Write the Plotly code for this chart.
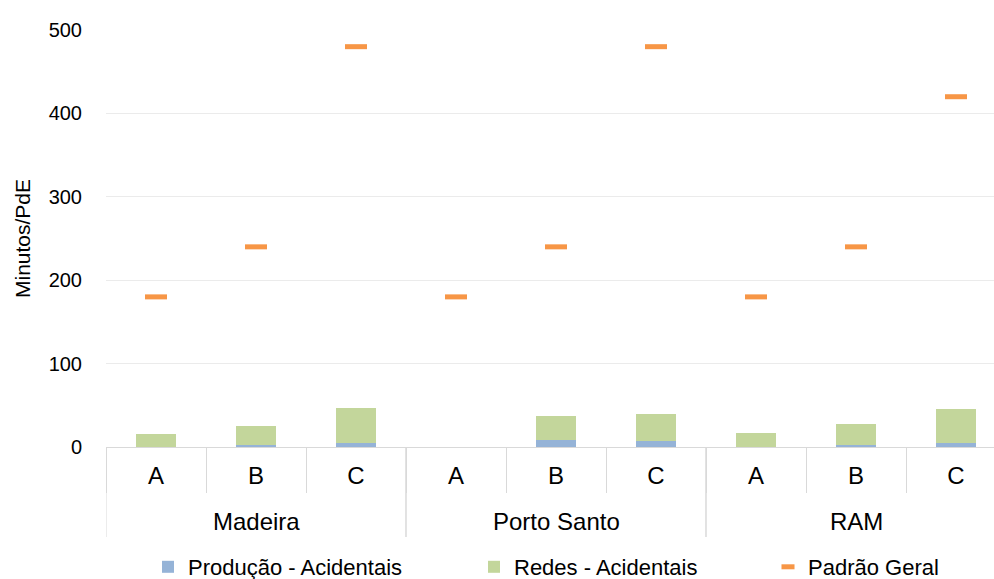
import plotly.graph_objects as go

regions = ["Madeira", "Madeira", "Madeira",
           "Porto Santo", "Porto Santo", "Porto Santo",
           "RAM", "RAM", "RAM"]
zones = ["A", "B", "C", "A", "B", "C", "A", "B", "C"]

producao = [0.3, 2.0, 4.4, 0.0, 8.0, 7.0, 0.3, 3.0, 4.5]
redes = [15.7, 23.5, 42.0, 0.0, 29.6, 32.2, 16.1, 24.2, 41.5]
padrao = [180, 240, 480, 180, 240, 480, 180, 240, 420]

font = "Liberation Sans, Arial, sans-serif"
ORANGE = "#F79646"
DIV = "#D9D9D9"

pos = list(range(len(zones)))
groups = list(dict.fromkeys(regions))

# figure and plot-area geometry (pixels) used to place the legend and group labels
FW, FH = 994, 579
L, T, B = 106, 30, 132
W, H = FW - L, FH - T - B

fig = go.Figure()
fig.add_trace(go.Bar(x=pos, y=producao, name="Produção - Acidentais",
                     marker=dict(color="#95B3D7", line=dict(width=0)),
                     width=0.4, legend="legend"))
fig.add_trace(go.Bar(x=pos, y=redes, name="Redes - Acidentais",
                     marker=dict(color="#C3D69B", line=dict(width=0)),
                     width=0.4, legend="legend2"))
fig.add_trace(go.Scatter(x=pos, y=padrao, name="Padrão Geral", mode="markers",
                         marker=dict(symbol="line-ew", size=15.7,
                                     line=dict(color=ORANGE, width=5)),
                         showlegend=False))
# legend key for the standard (short dash)
fig.add_trace(go.Scatter(x=[None], y=[None], name="Padrão Geral", mode="markers",
                         marker=dict(symbol="line-ew", size=9.3,
                                     line=dict(color=ORANGE, width=5)),
                         legend="legend3"))

def legend_at(px):
    return dict(orientation="h", yref="container", yanchor="middle",
                y=(FH - 567) / FH,
                xanchor="left", x=(px - L) / W,
                font=dict(family=font, size=22, color="#000"),
                bgcolor="rgba(0,0,0,0)", itemwidth=30)

# region labels and longer dividers between regions
annotations = []
shapes = []
for g in groups:
    idx = [i for i, r in enumerate(regions) if r == g]
    annotations.append(dict(x=sum(idx) / len(idx), xref="x",
                            y=-(521 - (T + H)) / H, yref="paper",
                            text=g, showarrow=False, yanchor="middle",
                            font=dict(family=font, size=24, color="#000")))
    for edge in (idx[0] - 0.5, idx[-1] + 0.5):
        shapes.append(dict(type="line", xref="x", yref="paper",
                           x0=edge, x1=edge, y0=0, y1=-90 / H,
                           line=dict(color=DIV, width=1)))

fig.update_layout(
    width=FW, height=FH,
    margin=dict(l=L, r=0, t=T, b=B),
    paper_bgcolor="white", plot_bgcolor="white",
    barmode="stack",
    font=dict(family=font, size=20, color="#000"),
    legend=legend_at(148),
    legend2=legend_at(474),
    legend3=legend_at(768),
    annotations=annotations,
    shapes=shapes,
    xaxis=dict(
        range=[-0.5, 8.38],
        tickmode="array", tickvals=pos, ticktext=zones,
        showgrid=False, zeroline=False,
        showline=True, linecolor=DIV, linewidth=1,
        ticks="", ticklabelstandoff=7,
        tickfont=dict(family=font, size=24, color="#000"),
        minor=dict(tickmode="array", tickvals=[i - 0.5 for i in pos] + [pos[-1] + 0.5],
                   ticks="outside", ticklen=45, tickcolor=DIV, tickwidth=1,
                   showgrid=False),
    ),
    yaxis=dict(
        range=[0, 500], tickvals=[0, 100, 200, 300, 400, 500],
        showgrid=True, gridcolor="#EBEBEB", gridwidth=1,
        zeroline=False, showline=False,
        ticklabelstandoff=23,
        tickfont=dict(family=font, size=20, color="#000"),
        title=dict(text="Minutos/PdE", font=dict(family=font, size=21, color="#000"),
                   standoff=12),
    ),
)

fig.write_html("out.html")
